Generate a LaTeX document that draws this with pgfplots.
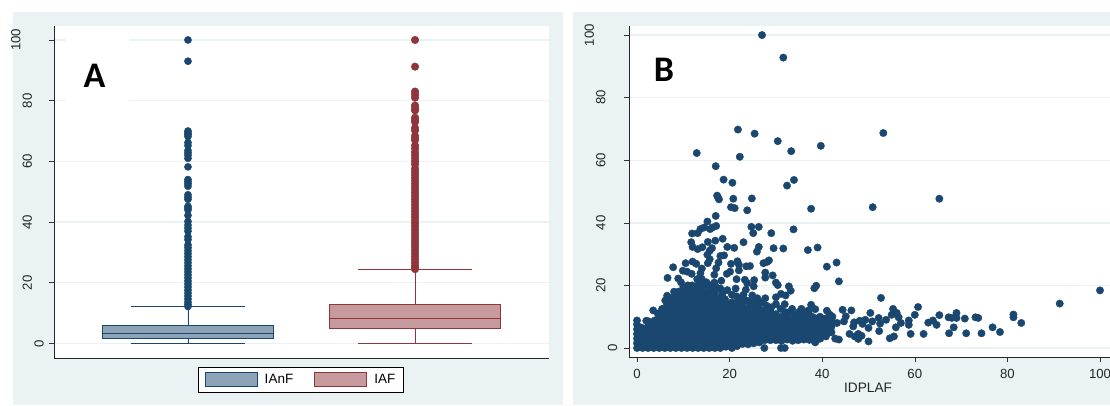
\documentclass[border=0pt]{standalone}
\usepackage{fontspec}
\usepackage{pgfplots}
\pgfplotsset{compat=1.18}
\usepgfplotslibrary{statistics}
\setmainfont{Liberation Sans}
\newfontfamily\carlito{Carlito}
\definecolor{bgc}{HTML}{EAF2F3}
\definecolor{navy}{HTML}{1A476F}
\definecolor{maroon}{HTML}{90353B}
\definecolor{navyf}{HTML}{8DA3B7}
\definecolor{maroonf}{HTML}{C79A9D}
\pgfplotsset{
  panel/.style={
    scale only axis, anchor=south west,
    axis x line*=bottom, axis y line*=left,
    axis line style={black!85, line width=0.9pt, -},
    axis background/.style={fill=white},
    ymajorgrids, grid style={color=bgc, line width=1.4pt},
    tick align=outside, major tick length=5pt,
    every tick/.style={black!80, line width=0.6pt},
    tick label style={font=\fontsize{13.2}{15}\selectfont, text=black!85},
    ytick={0,20,40,60,80,100},
    yticklabels={{0},{\raisebox{12pt}{20}},{\raisebox{12pt}{40}},{\raisebox{12pt}{60}},{\raisebox{12pt}{80}},{\raisebox{23.5pt}{100}}},
    clip=false,
  },
}
\begin{document}
\begin{tikzpicture}
\path[use as bounding box] (0pt,0pt) rectangle (1110pt,405pt);
\clip (0pt,0pt) rectangle (1110pt,405pt);
\fill[bgc] (13pt,0pt) rectangle (563pt,393pt);
\fill[bgc] (573pt,0pt) rectangle (1110pt,393pt);

\begin{axis}[panel, at={(54pt,47pt)}, width=495pt, height=332pt,
  xmin=0.41, xmax=2.59, ymin=-4.78, ymax=104.6, xtick=\empty,
  yticklabel style={rotate=90, anchor=south, inner sep=0pt, yshift=5pt},
  boxplot/draw direction=y,
  legend style={at={(0.499,-0.066)}, anchor=center, draw=black, line width=0.8pt, fill=white,
    legend columns=2, font=\fontsize{13.5}{15}\selectfont, inner xsep=6pt, inner ysep=5pt,
    /tikz/every odd column/.style={column sep=5pt},
    /tikz/every even column/.style={column sep=19pt}, cells={anchor=west}},
]
\addplot+[forget plot, solid, color=navy, fill=navyf, line width=0.9pt, mark=none,
  boxplot prepared={draw position=1, box extend=0.754, whisker extend=0.502,
    lower whisker=0, lower quartile=1.65, median=3.3, upper quartile=5.8, upper whisker=12.1}]
  coordinates {};
\addplot+[forget plot, solid, color=maroon, fill=maroonf, line width=0.9pt, mark=none,
  boxplot prepared={draw position=2, box extend=0.754, whisker extend=0.502,
    lower whisker=0, lower quartile=4.95, median=8.35, upper quartile=12.75, upper whisker=24.4}]
  coordinates {};
\addplot[forget plot, only marks, mark=*, mark size=3.6pt, color=navy] coordinates {
 (1,100)(1,93)(1,70)(1,69.4)(1,68.8)(1,68.2)(1,66.2)(1,65.2)(1,63.6)(1,62.8)(1,62)(1,61)(1,58.2)
 (1,54)(1,53.3)(1,52.6)(1,51.8)(1,49)(1,48.2)(1,47.5)(1,45.2)(1,44.6)(1,44)(1,42.2)(1,40.2)(1,39)(1,38)(1,37)
 (1,35.2)(1,34.2)(1,32.5)(1,31.6)(1,30.6)(1,29.6)(1,28.6)(1,27.6)(1,26.6)(1,25.6)(1,24.6)(1,23.6)(1,22.6)
 (1,21.6)(1,20.6)(1,19.6)(1,18.6)(1,17.6)(1,16.6)(1,15.6)(1,14.6)(1,13.6)(1,12.8)(1,12.2)};
\addplot[forget plot, only marks, mark=*, mark size=3.8pt, color=maroon] coordinates {
 (2,100)(2,91.2)(2,83)(2,82)(2,81)(2,78.4)(2,77.4)(2,76.8)(2,74.4)(2,73.6)(2,73)(2,71)(2,70.2)(2,68.4)(2,67.6)(2,67)
 (2,65.2)(2,64.2)(2,63)(2,62)(2,61)(2,60)(2,59)(2,57.6)(2,56.6)(2,55.6)(2,54.6)(2,53.6)(2,52.6)(2,51.6)(2,50.6)(2,49.6)
 (2,48.6)(2,47.6)(2,46.6)(2,45.6)(2,44.6)(2,43.6)(2,42.6)(2,41.6)(2,40.6)(2,39.6)(2,38.6)(2,37.6)(2,36.6)(2,35.6)(2,34.6)
 (2,33.6)(2,32.6)(2,31.6)(2,30.6)(2,29.6)(2,28.6)(2,27.6)(2,26.6)(2,25.6)(2,25)(2,24.5)};
\addlegendimage{legend image code/.code={\draw[draw=navy,fill=navyf,line width=1pt] (0pt,-7pt) rectangle (52pt,7pt);}}
\addlegendentry{IAnF}
\addlegendimage{legend image code/.code={\draw[draw=maroon,fill=maroonf,line width=1pt] (0pt,-7pt) rectangle (52pt,7pt);}}
\addlegendentry{IAF}
\end{axis}
\fill[white] (66pt,304pt) rectangle (129pt,366pt);
\node[font=\carlito\bfseries\fontsize{36}{36}\selectfont, anchor=base, inner sep=0pt] at (94.5pt,317pt) {A};

\begin{axis}[panel, at={(629pt,48pt)}, width=481pt, height=331pt,
  xmin=-1.73, xmax=102.16, ymin=-2.88, ymax=102.9,
  yticklabel style={rotate=90, anchor=south, inner sep=0pt, yshift=6.5pt},
  xtick={0,20,40,60,80,100},
  xticklabels={0,20,40,60,80,100},
  xticklabel style={inner sep=0pt, yshift=-7pt},
  xlabel={IDPLAF}, xlabel style={font=\fontsize{13.7}{15}\selectfont, text=black!85, at={(0.497,0)}, anchor=north, inner sep=0pt, yshift=-26pt},
]
% visibly separate points
\addplot[only marks, mark=*, mark size=3.7pt, color=navy] coordinates {
 (27,100)(31.6,92.8)(21.8,69.8)(25.4,68.5)(53.2,68.7)(30.4,66.1)(39.7,64.6)(33.3,62.9)(12.9,62.3)(22.2,61.1)
 (17,58.1)(18.7,53.8)(33.9,53.7)(20.6,52.8)(32.4,51.9)(17.3,48.7)(17.5,48.1)(17.7,47.5)(20.8,47.7)(24.8,47.8)
 (65.3,47.7)(50.9,45)(20.3,45)(21.1,44.7)(23.8,44)(37.6,44.5)(17,42.2)(15.2,40.4)(17.1,39)(16.3,38.5)(15.8,38)
 (14.5,38.5)(13.7,38)(13.1,36.7)(11.9,36.6)(24.7,38.7)(26.3,38.7)(33.8,37.9)(25.1,36.7)(29,36.7)(18.5,34.9)
 (16.9,34.3)(15.3,33.9)(11.7,33.8)(23,33.8)(12,32.3)(13.1,31.6)(14.1,32.2)(16.2,31.9)(15.7,31.1)(19.5,32.3)
 (21,32)(26.3,32.3)(25.9,30.8)(29.5,31.9)(31.6,31.8)(36.9,31.3)(39,32.1)(15.2,29.8)(18,29.4)(18.8,29.6)(15.7,28.4)
 (15.3,27.1)(17.6,27.3)(21.7,27.7)(20.3,26.9)(27.3,27.1)(28.1,27.5)(28.5,28)(43.1,27.3)(12,27.6)(12.8,26.9)
 (10.5,27.1)(7.8,25.8)(14,25.4)(17.1,25.5)(22,26.6)(23.6,26.1)(24.4,26.2)(41,26)(9.9,24.7)(10.8,24.4)(11.8,23.7)
 (13.7,23.9)(16.7,23.4)(19.4,23.7)(20.1,24.4)(22,24.8)(27.7,24.1)(29.3,23.2)(27.7,22.5)(6.6,22.4)(8.9,22.2)
 (9.5,21)(23.3,21.8)(25.3,21.7)(23.8,20.7)(21.5,22)(18.2,21.5)(16.7,20.9)(30,20.9)(30.4,20.1)(43.6,21.3)
 (32.8,19.7)(25.2,19.7)(38.3,19.1)(38.7,19.9)(33.2,18.3)(21.3,19)(23.5,18.6)(100,18.4)(8,18)(6.5,16.7)(6.1,15.2)
 (52.7,16)(27.7,15.9)(31.1,17.3)(32.1,16.8)(30,16.2)(24.9,16.8)(26,15.9)(23.5,15.2)(91.3,14.2)(31.9,14)(37.6,13.8)
 (38.5,12.4)(60.7,13.1)(3.5,12)(5.4,12.4)(2,8.7)(0,8.8)(44.4,12.2)(46.3,12)(41,11.9)(55.3,12.5)(50.4,11.2)(60,10.6)
 (65.3,10.5)(69,11.2)(81.3,10.7)(41.7,10.6)(45.1,10.1)(56.1,11.2)(55,10.6)(56.5,9.8)(52.2,9.6)(53.8,9)(49.3,9)
 (48.1,8.7)(50.8,8.5)(58.7,8.8)(63.9,8.8)(67.3,9.8)(68,9.6)(69,9.6)(70.8,9.4)(73.1,9.8)(73.7,9.6)(81.3,9.8)(83,8)
 (44.7,8.5)(43.2,8)(46.9,8.2)(48.7,7.7)(46.7,6.9)(52.5,7.8)(57,8)(58.7,7.4)(62.9,8.1)(64.7,7.4)(55.9,6.6)(50,6.4)
 (68.4,6.6)(76.8,6.6)(52.3,5.4)(78.4,5.1)(59.1,4.5)(61.9,4.5)(67.4,4.7)(71.1,4.7)(74.4,4.7)(55.5,3.7)(54.6,3.1)
 (45.9,4.5)(47,3.7)(47.8,4.5)(48.5,3.9)(47.8,2.9)(50,2.1)(43.6,2.7)(42.8,3)(38.5,1.8)(27.5,0)(31.1,0)(31.9,0)(20.5,0)
 (18.5,17.5)(19.5,18.5)(20.5,17)(21.5,16.5)(22.5,15.5)(23,17)(24,15)(25,14.5)(26,14)(27,14.5)(28,13.5)(29,13)(30,14)
 (31,12.5)(32,11.5)(33,11.5)(33.5,12.5)(35.5,12.5)(37,12)(39.5,10)(16,20)(17,19.5)(18,19)(15,21)(14,22)(13,22)(11,20)
 (10,19.5)(9,18)(7.5,16)(8.5,17.3)(6.5,14)(5.5,12.5)(4.5,11)(2.5,8.5)(1,6.5)(40,9.5)(41,8.5)
};
% the solid mass of overlapping points, estimated by eye
\addplot[only marks, mark=*, mark size=3.7pt, color=navy] coordinates {
 (0,0)(0,1.5)(0,3)(0,4.5)(0,6)(0,7.5)
 (1.2,0)(1.2,1.8)(1.2,3.6)(1.2,5)
 (2.4,0)(2.4,1.8)(2.4,3.6)(2.4,5.4)(2.4,7)
 (3.6,0)(3.6,1.8)(3.6,3.6)(3.6,5.4)(3.6,7.2)(3.8,8.8)
 (4.8,0)(4.8,1.8)(4.8,3.6)(4.8,5.4)(4.8,7.2)(4.8,9)(4.7,10.6)
 (6,0)(6,1.8)(6,3.6)(6,5.4)(6,7.2)(6,9)(6,10.8)(6.1,12.2)
 (7.2,0)(7.2,1.8)(7.2,3.6)(7.2,5.4)(7.2,7.2)(7.2,9)(7.2,10.8)(7.2,12.6)(7.1,14)
 (8.4,0)(8.4,1.8)(8.4,3.6)(8.4,5.4)(8.4,7.2)(8.4,9)(8.4,10.8)(8.4,12.6)(8.4,14.4)(8.5,15.6)
 (9.6,0)(9.6,1.8)(9.6,3.6)(9.6,5.4)(9.6,7.2)(9.6,9)(9.6,10.8)(9.6,12.6)(9.6,14.4)(9.6,16.2)(9.7,17.5)
 (10.8,0)(10.8,1.8)(10.8,3.6)(10.8,5.4)(10.8,7.2)(10.8,9)(10.8,10.8)(10.8,12.6)(10.8,14.4)(10.8,16.2)(10.9,18.2)
 (12,0)(12,1.8)(12,3.6)(12,5.4)(12,7.2)(12,9)(12,10.8)(12,12.6)(12,14.4)(12,16.2)(12,18)(11.9,20)
 (13.2,0)(13.2,1.8)(13.2,3.6)(13.2,5.4)(13.2,7.2)(13.2,9)(13.2,10.8)(13.2,12.6)(13.2,14.4)(13.2,16.2)(13.2,18)(13.3,20.4)
 (14.4,0)(14.4,1.8)(14.4,3.6)(14.4,5.4)(14.4,7.2)(14.4,9)(14.4,10.8)(14.4,12.6)(14.4,14.4)(14.4,16.2)(14.4,18)(14.5,20)
 (15.6,0)(15.6,1.8)(15.6,3.6)(15.6,5.4)(15.6,7.2)(15.6,9)(15.6,10.8)(15.6,12.6)(15.6,14.4)(15.6,16.2)(15.7,18.6)
 (16.8,0)(16.8,1.8)(16.8,3.6)(16.8,5.4)(16.8,7.2)(16.8,9)(16.8,10.8)(16.8,12.6)(16.8,14.4)(16.8,16.2)(16.9,18)
 (18,0)(18,1.8)(18,3.6)(18,5.4)(18,7.2)(18,9)(18,10.8)(18,12.6)(18,14.4)(18.2,16.5)
 (19.2,0.4)(19.2,1.8)(19.2,3.6)(19.2,5.4)(19.2,7.2)(19.2,9)(19.2,10.8)(19.2,12.6)(19.2,14.4)(19,15.6)
 (20.4,1)(20.4,2.4)(20.4,3.6)(20.4,5.4)(20.4,7.2)(20.4,9)(20.4,10.8)(20.4,12.6)(20.5,14.6)
 (21.6,0.6)(21.6,2.2)(21.6,3.6)(21.6,5.4)(21.6,7.2)(21.6,9)(21.6,10.8)(21.6,12.6)(21.7,14.4)
 (22.8,1.3)(22.8,3)(22.8,4.6)(22.8,6.2)(22.8,7.8)(22.8,9.4)(22.8,11)(22.8,12.6)(22.7,14)
 (24,1.2)(24,3)(24,4.8)(24,6.4)(24,8)(24,9.6)(24,11.2)(24.1,13)
 (25.2,1.5)(25.2,3.2)(25.2,4.8)(25.2,6.4)(25.2,8)(25.2,9.6)(25.2,11.2)(25.3,13)
 (26.4,1.8)(26.4,3.4)(26.4,5)(26.4,6.6)(26.4,8.2)(26.4,9.8)(26.4,11.2)(26.4,12.6)
 (27.6,2.5)(27.6,4)(27.6,5.6)(27.6,7.2)(27.6,8.8)(27.6,10.4)(27.5,12)
 (28.8,2.5)(28.8,4)(28.8,5.6)(28.8,7.2)(28.8,8.8)(28.8,10.2)(28.9,11.5)
 (30,2.5)(30,4)(30,5.6)(30,7.2)(30,8.8)(30,10.8)
 (31.2,2.3)(31.2,4)(31.2,5.6)(31.2,7.2)(31.2,8.6)(31.3,10)
 (32.4,2.7)(32.4,4.2)(32.4,5.8)(32.4,7.4)(32.5,9.5)
 (33.6,2.3)(33.6,4)(33.6,5.6)(33.6,7.2)(33.6,8.8)(33.7,11)
 (34.8,2.5)(34.8,4.2)(34.8,5.8)(34.8,7.4)(34.8,9.2)(35,11.5)
 (36,2.7)(36,4.2)(36,5.8)(36,7.4)(36,9.2)(36.1,11.3)
 (37.2,2.6)(37.2,4.2)(37.2,5.8)(37.2,7.4)(37.2,9.2)(37.1,11)
 (38.4,2)(38.4,3.6)(38.4,5.4)(38.4,7.2)(38.5,9.5)
 (39.6,3)(39.6,4.6)(39.6,6.2)(39.7,8)
 (40.8,3.7)(40.8,5.4)(40.8,7.4)(40.9,9.5)
 (42,5)(42,6.8)(42,8.5)(42.2,10)
};
\addplot[only marks, mark=*, mark size=3.7pt, color=navy] coordinates {
 (0.6,0.8)(0.6,2.4)(0.6,4)(0.6,5.4)
 (1.8,0.9)(1.8,2.7)(1.8,4.5)
 (3,0.9)(3,2.7)(3,4.5)(3,6.3)
 (4.2,0.9)(4.2,2.7)(4.2,4.5)(4.2,6.3)(4.2,8.1)
 (5.4,0.9)(5.4,2.7)(5.4,4.5)(5.4,6.3)(5.4,8.1)(5.4,9.9)
 (6.6,0.9)(6.6,2.7)(6.6,4.5)(6.6,6.3)(6.6,8.1)(6.6,9.9)(6.6,11.7)
 (7.8,0.9)(7.8,2.7)(7.8,4.5)(7.8,6.3)(7.8,8.1)(7.8,9.9)(7.8,11.7)(7.8,13.5)
 (9,0.9)(9,2.7)(9,4.5)(9,6.3)(9,8.1)(9,9.9)(9,11.7)(9,13.5)(9,15.3)
 (10.2,0.9)(10.2,2.7)(10.2,4.5)(10.2,6.3)(10.2,8.1)(10.2,9.9)(10.2,11.7)(10.2,13.5)(10.2,15.3)(10.2,17.1)
 (11.4,0.9)(11.4,2.7)(11.4,4.5)(11.4,6.3)(11.4,8.1)(11.4,9.9)(11.4,11.7)(11.4,13.5)(11.4,15.3)(11.4,17.1)
 (12.6,0.9)(12.6,2.7)(12.6,4.5)(12.6,6.3)(12.6,8.1)(12.6,9.9)(12.6,11.7)(12.6,13.5)(12.6,15.3)(12.6,17.1)(12.6,18.9)
 (13.8,0.9)(13.8,2.7)(13.8,4.5)(13.8,6.3)(13.8,8.1)(13.8,9.9)(13.8,11.7)(13.8,13.5)(13.8,15.3)(13.8,17.1)(13.8,18.9)
 (15,0.9)(15,2.7)(15,4.5)(15,6.3)(15,8.1)(15,9.9)(15,11.7)(15,13.5)(15,15.3)(15,17.1)
 (16.2,0.9)(16.2,2.7)(16.2,4.5)(16.2,6.3)(16.2,8.1)(16.2,9.9)(16.2,11.7)(16.2,13.5)(16.2,15.3)(16.2,17.1)
 (17.4,0.9)(17.4,2.7)(17.4,4.5)(17.4,6.3)(17.4,8.1)(17.4,9.9)(17.4,11.7)(17.4,13.5)(17.4,15.3)
 (18.6,0.9)(18.6,2.7)(18.6,4.5)(18.6,6.3)(18.6,8.1)(18.6,9.9)(18.6,11.7)(18.6,13.5)
 (19.8,1.2)(19.8,2.7)(19.8,4.5)(19.8,6.3)(19.8,8.1)(19.8,9.9)(19.8,11.7)(19.8,13.5)
 (21,1.4)(21,3)(21,4.5)(21,6.3)(21,8.1)(21,9.9)(21,11.7)(21,13.5)
 (22.2,1.5)(22.2,3)(22.2,4.5)(22.2,6.3)(22.2,8.1)(22.2,9.9)(22.2,11.7)(22.2,13.5)
 (23.4,2.1)(23.4,3.9)(23.4,5.6)(23.4,7.2)(23.4,8.8)(23.4,10.4)(23.4,12)
 (24.6,2.1)(24.6,3.9)(24.6,5.6)(24.6,7.2)(24.6,8.8)(24.6,10.4)(24.6,12)
 (25.8,2.4)(25.8,4)(25.8,5.6)(25.8,7.2)(25.8,8.8)(25.8,10.4)(25.8,12)
 (27,2.6)(27,4.2)(27,5.8)(27,7.4)(27,9)(27,10.6)
 (28.2,3.2)(28.2,4.8)(28.2,6.4)(28.2,8)(28.2,9.6)(28.2,11)
 (29.4,3.2)(29.4,4.8)(29.4,6.4)(29.4,8)(29.4,9.6)
 (30.6,3.2)(30.6,4.8)(30.6,6.4)(30.6,8)(30.6,9.4)
 (31.8,3.4)(31.8,4.8)(31.8,6.4)(31.8,8)
 (33,3.4)(33,5)(33,6.6)(33,8.2)
 (34.2,3.2)(34.2,4.8)(34.2,6.6)(34.2,8.2)(34.2,10)
 (35.4,3.4)(35.4,5)(35.4,6.6)(35.4,8.2)(35.4,10)
 (36.6,3.4)(36.6,5)(36.6,6.6)(36.6,8.2)(36.6,10)
 (37.8,3.2)(37.8,5)(37.8,6.6)(37.8,8.2)(37.8,10)
 (39,2.8)(39,4.5)(39,6.3)(39,8)
 (40.2,4)(40.2,5.4)(40.2,7)(40.2,8.6)
 (41.4,5)(41.4,6.6)(41.4,8.2)
};
\end{axis}
\node[font=\carlito\bfseries\fontsize{36}{36}\selectfont, anchor=base, inner sep=0pt] at (664pt,323pt) {B};
\end{tikzpicture}
\end{document}
